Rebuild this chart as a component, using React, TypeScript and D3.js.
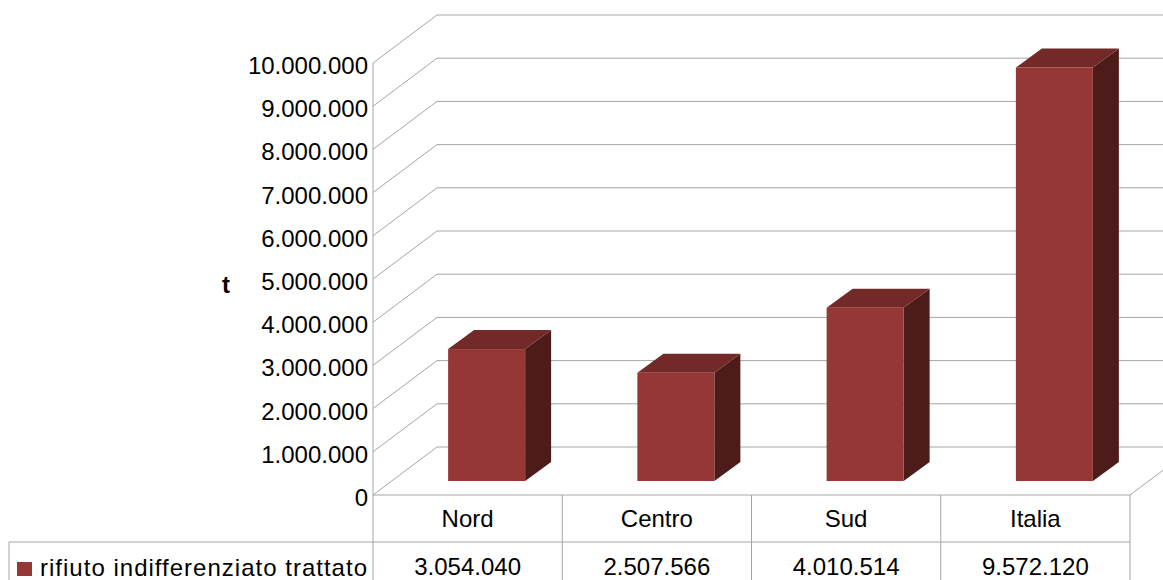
import React from "react";
import * as d3 from "d3";

const categories = ["Nord", "Centro", "Sud", "Italia"];
const values = [3054040, 2507566, 4010514, 9572120];
const seriesName = "rifiuto indifferenziato trattato";
const yTicks = [0, 1000000, 2000000, 3000000, 4000000, 5000000, 6000000, 7000000, 8000000, 9000000, 10000000];
const axisTitle = "t";

const W = 1163;
const H = 580;
const FRONT_LEFT = 373;
const FRONT_RIGHT = 1130;
const FLOOR_Y = 495;
const DEPTH_X = 64;
const DEPTH_Y = 48;
const BAR_W = 77;
const BAR_OFF_X = 19;
const BAR_OFF_Y = 14;
const BAR_DEPTH_X = 26;
const BAR_DEPTH_Y = 19;
const ROW1_Y = 542;
const LEGEND_LEFT = 9;
const GRID = "#a6a6a6";
const FRONT = "#953735";
const TOP = "#722928";
const SIDE = "#4e1b1b";
const FONT = "'Liberation Sans', Arial, sans-serif";

const it = d3.formatLocale({ decimal: ",", thousands: ".", grouping: [3], currency: ["", ""] });
const fmt = it.format(",d");

export default function App() {
  const y = d3.scaleLinear().domain([0, 10000000]).range([FLOOR_Y, FLOOR_Y - 432]);
  const x = d3.scaleBand<string>().domain(categories).range([FRONT_LEFT, FRONT_RIGHT]).paddingInner(0).paddingOuter(0);
  const bw = x.bandwidth();

  return (
    <svg width={W} height={H} style={{ position: "absolute", left: 0, top: 0, background: "#fff" }} fontFamily={FONT}>
      {/* grid: left wall diagonals and back wall horizontals */}
      {yTicks.map((t) => {
        const yf = y(t);
        return (
          <g key={t}>
            <line x1={FRONT_LEFT} y1={yf} x2={FRONT_LEFT + DEPTH_X} y2={yf - DEPTH_Y} stroke={GRID} strokeWidth={1} />
            <line x1={FRONT_LEFT + DEPTH_X} y1={yf - DEPTH_Y} x2={FRONT_RIGHT + DEPTH_X} y2={yf - DEPTH_Y} stroke={GRID} strokeWidth={1} />
          </g>
        );
      })}
      {/* floor right diagonal */}
      <line x1={FRONT_RIGHT} y1={FLOOR_Y} x2={FRONT_RIGHT + DEPTH_X} y2={FLOOR_Y - DEPTH_Y} stroke={GRID} />
      {/* left axis line */}
      <line x1={FRONT_LEFT} y1={y(10000000)} x2={FRONT_LEFT} y2={H} stroke={GRID} />
      {/* tick labels */}
      {yTicks.map((t) => (
        <text key={"l" + t} x={368} y={y(t) + 11} textAnchor="end" fontSize={24} fill="#000">
          {fmt(t)}
        </text>
      ))}
      <text x={222} y={293} fontSize={24} fontWeight="bold" fill="#000">{axisTitle}</text>

      {/* bars */}
      {categories.map((c, i) => {
        const cx = (x(c) as number) + bw / 2;
        const x0 = cx - BAR_W / 2 + BAR_OFF_X;
        const x1 = x0 + BAR_W;
        const yb = y(0) - BAR_OFF_Y;
        const yt = y(values[i]) - BAR_OFF_Y;
        const dx = BAR_DEPTH_X;
        const dy = BAR_DEPTH_Y;
        return (
          <g key={c}>
            <polygon points={`${x1},${yt} ${x1 + dx},${yt - dy} ${x1 + dx},${yb - dy} ${x1},${yb}`} fill={SIDE} />
            <polygon points={`${x0},${yt} ${x0 + dx},${yt - dy} ${x1 + dx},${yt - dy} ${x1},${yt}`} fill={TOP} />
            <rect x={x0} y={yt} width={BAR_W} height={yb - yt} fill={FRONT} />
          </g>
        );
      })}

      {/* data table */}
      <line x1={FRONT_LEFT} y1={FLOOR_Y} x2={FRONT_RIGHT} y2={FLOOR_Y} stroke={GRID} />
      <line x1={LEGEND_LEFT} y1={ROW1_Y} x2={FRONT_RIGHT} y2={ROW1_Y} stroke={GRID} />
      <line x1={LEGEND_LEFT} y1={ROW1_Y} x2={LEGEND_LEFT} y2={H} stroke={GRID} />
      {categories.map((c) => (
        <line key={"v" + c} x1={(x(c) as number) + bw} y1={FLOOR_Y} x2={(x(c) as number) + bw} y2={H} stroke={GRID} />
      ))}
      {categories.map((c, i) => {
        const cx = (x(c) as number) + bw / 2;
        return (
          <g key={"t" + c}>
            <text x={cx} y={527} textAnchor="middle" fontSize={24} fill="#000">{c}</text>
            <text x={cx} y={575} textAnchor="middle" fontSize={24} fill="#000">{fmt(values[i])}</text>
          </g>
        );
      })}
      <rect x={17} y={562} width={15} height={14} fill={FRONT} />
      <text x={40} y={576} fontSize={24} fill="#000" textLength={327} lengthAdjust="spacing">{seriesName}</text>
    </svg>
  );
}
